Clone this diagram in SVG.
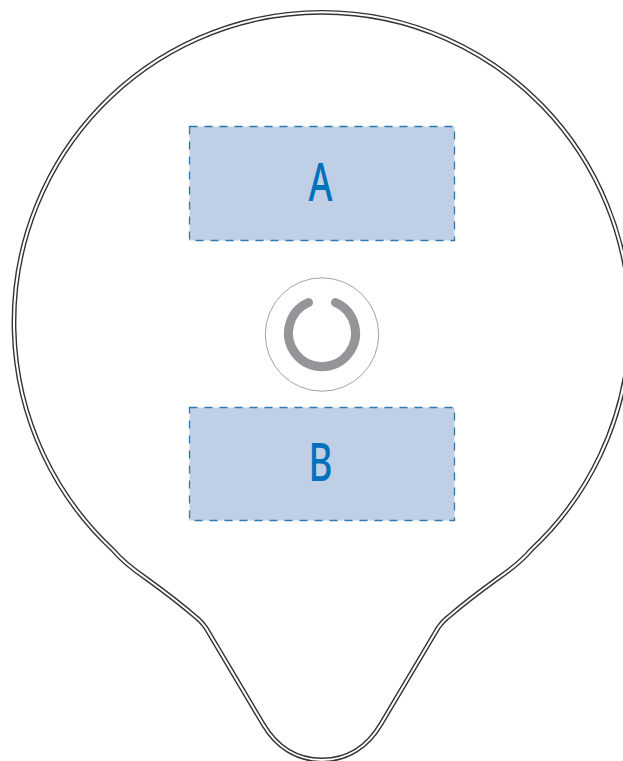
<svg xmlns="http://www.w3.org/2000/svg" width="623" height="761" viewBox="0 0 623 761">
<style>
.o{fill:none;stroke-linejoin:round}
.od{stroke:#333;stroke-width:4.8}
.ow{stroke:#fff;stroke-width:2}
.z{fill:#bfcfe6;stroke:#2d78ad;stroke-width:1.3;stroke-dasharray:8 7}
.t{font-family:"Noto Sans","DejaVu Sans",sans-serif;font-size:52px;font-weight:500;fill:#0071bc;text-anchor:middle}
</style>
<defs>
<path id="outline" d="M197,618 C190,612 172,597 147,579 C134,570 122,561 113,550 A308,310 0 1 1 531,550 C522,561 510,570 497,579 C472,597 454,612 447,618 C443,621 441,624 438,628 L381,724 C368,746 348,760 322,760 C296,760 276,746 263,724 L206,628 C203,624 201,621 197,618 Z"/>
</defs>
<g id="outer">
<use href="#outline" class="o od"/>
<use href="#outline" class="o ow"/>
</g>
<g id="zone-a">
<rect class="z" x="189.5" y="126.5" width="265" height="114"/>
<text class="t" x="320.5" y="201" textLength="24" lengthAdjust="spacingAndGlyphs">A</text>
</g>
<g id="zone-b">
<rect class="z" x="189.5" y="407.5" width="265" height="113"/>
<text class="t" x="320.5" y="481" textLength="24" lengthAdjust="spacingAndGlyphs">B</text>
</g>
<g id="button">
<circle cx="322" cy="334.5" r="56.7" fill="#fff" stroke="#8a8a8a" stroke-width="0.8"/>
<path d="M308.5,302.5 A33.5,33.5 0 1 0 335.5,302.5" fill="none" stroke="#939598" stroke-width="9" stroke-linecap="round"/>
</g>
<g id="connectors"/>
</svg>
